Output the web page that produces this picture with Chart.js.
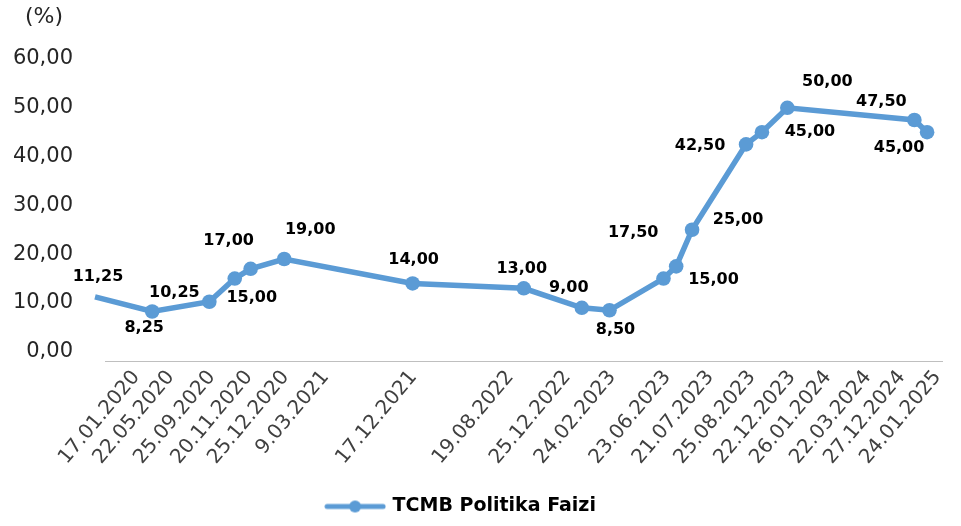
<!DOCTYPE html>
<html>
<head>
<meta charset="utf-8">
<script src="https://cdn.jsdelivr.net/npm/chart.js@4/dist/chart.umd.min.js"></script>
<style>
  html, body { margin: 0; padding: 0; background: #fff; }
  #wrap { width: 961px; height: 526px; }
</style>
</head>
<body>
<div id="wrap"><canvas id="rateChart" width="961" height="526"></canvas></div>
<script>
// decision dates and policy rate (%)
const dates = ['17.01.2020', '22.05.2020', '25.09.2020', '20.11.2020', '25.12.2020', '9.03.2021',
  '17.12.2021', '19.08.2022', '25.12.2022', '24.02.2023', '23.06.2023', '21.07.2023',
  '25.08.2023', '22.12.2023', '26.01.2024', '22.03.2024', '27.12.2024', '24.01.2025'];
const rates = [11.25, 8.25, 10.25, 15.00, 17.00, 19.00, 14.00, 13.00, 9.00, 8.50,
  15.00, 17.50, 25.00, 42.50, 45.00, 50.00, 47.50, 45.00];

// axis labels and where they sit on the axis (days after 17.01.2020)
const tickLabels = dates.slice();
const tickDays = [91, 167, 257, 339, 420, 508, 702, 915, 1041, 1140,
  1261, 1356, 1448, 1536, 1615, 1703, 1778, 1857];
const yTicks = [0, 10, 20, 30, 40, 50, 60];

// value label offsets from each point [dx, dy]
const labelOffsets = [[3, -20], [-8, 16], [-35, -9], [17, 19], [-22, -28], [26, -29],
  [1, -24], [-2, -19], [-13, -20], [6, 20], [50, 1], [-43, -34],
  [46, -10], [-46, 1], [48, 0], [40, -26], [-33, -18], [-28, 16]];

const BLUE = '#5B9BD5';

function toDay(s) {
  const p = s.split('.');
  return Date.UTC(+p[2], +p[1] - 1, +p[0]) / 86400000;
}
const day0 = toDay(dates[0]);
const points = dates.map((d, i) => ({ x: toDay(d) - day0, y: rates[i] }));

function fmt(v) {
  return v.toFixed(2).replace('.', ',');
}

// legend marker: line with a dot
const marker = document.createElement('canvas');
marker.width = 62;
marker.height = 16;
(function () {
  const c = marker.getContext('2d');
  c.strokeStyle = BLUE;
  c.lineWidth = 5;
  c.lineCap = 'round';
  c.beginPath();
  c.moveTo(3, 8);
  c.lineTo(59, 8);
  c.stroke();
  c.fillStyle = BLUE;
  c.beginPath();
  c.arc(31, 8, 6, 0, Math.PI * 2);
  c.fill();
})();

const valueLabels = {
  id: 'valueLabels',
  afterDatasetsDraw(chart) {
    const ctx = chart.ctx;
    const meta = chart.getDatasetMeta(0);
    ctx.save();
    ctx.font = 'bold 16px "DejaVu Sans", Verdana, sans-serif';
    ctx.fillStyle = '#000';
    ctx.textAlign = 'center';
    ctx.textBaseline = 'middle';
    meta.data.forEach((pt, i) => {
      const off = labelOffsets[i];
      ctx.fillText(fmt(rates[i]), pt.x + off[0], pt.y + off[1]);
    });
    ctx.restore();
  }
};

const unitLabel = {
  id: 'unitLabel',
  beforeDraw(chart) {
    // legend sits a bit left of centre in the original
    chart.legend.right = chart.width - 38;
  },
  afterDraw(chart) {
    const ctx = chart.ctx;
    ctx.save();
    ctx.font = '22px "DejaVu Sans", Verdana, sans-serif';
    ctx.fillStyle = '#262626';
    ctx.textAlign = 'left';
    ctx.textBaseline = 'middle';
    ctx.fillText('(%)', 25, 17);
    ctx.restore();
  }
};

new Chart(document.getElementById('rateChart'), {
  type: 'line',
  data: {
    datasets: [{
      label: 'TCMB Politika Faizi',
      data: points,
      borderColor: BLUE,
      backgroundColor: BLUE,
      borderWidth: 5.5,
      pointRadius: 7.3,
      pointHoverRadius: 7.3,
      pointBackgroundColor: BLUE,
      pointBorderWidth: 0,
      tension: 0,
      clip: false
    }]
  },
  options: {
    responsive: false,
    animation: false,
    layout: { padding: { top: 59, right: 17, left: 0, bottom: 0 } },
    plugins: {
      tooltip: { enabled: false },
      legend: {
        position: 'bottom',
        labels: {
          usePointStyle: true,
          pointStyleWidth: 56,
          color: '#000',
          font: { family: '"DejaVu Sans", Verdana, sans-serif', size: 19, weight: 'bold' },
          generateLabels: chart => [{
            text: chart.data.datasets[0].label,
            pointStyle: marker,
            fillStyle: BLUE,
            strokeStyle: BLUE,
            lineWidth: 0,
            datasetIndex: 0
          }]
        }
      }
    },
    scales: {
      x: {
        type: 'linear',
        min: 22,
        max: 1868,
        grid: { display: false, drawTicks: false },
        border: { display: true, color: '#BFBFBF', width: 1 },
        afterBuildTicks: scale => {
          scale.ticks = tickDays.map(v => ({ value: v }));
        },
        afterFit: scale => { scale.height = 126; },
        ticks: {
          autoSkip: false,
          minRotation: 50,
          maxRotation: 50,
          padding: 5,
          color: '#404040',
          font: { family: '"DejaVu Sans", Verdana, sans-serif', size: 20 },
          callback: (v, i) => tickLabels[i]
        }
      },
      y: {
        min: -1.9,
        max: 60,
        grid: { display: false, drawTicks: false },
        border: { display: false },
        afterBuildTicks: scale => {
          scale.ticks = yTicks.map(v => ({ value: v }));
        },
        afterFit: scale => { scale.width = 105; },
        ticks: {
          padding: 32,
          color: '#262626',
          font: { family: '"DejaVu Sans", Verdana, sans-serif', size: 21 },
          callback: v => fmt(v)
        }
      }
    }
  },
  plugins: [valueLabels, unitLabel]
});
</script>
</body>
</html>
